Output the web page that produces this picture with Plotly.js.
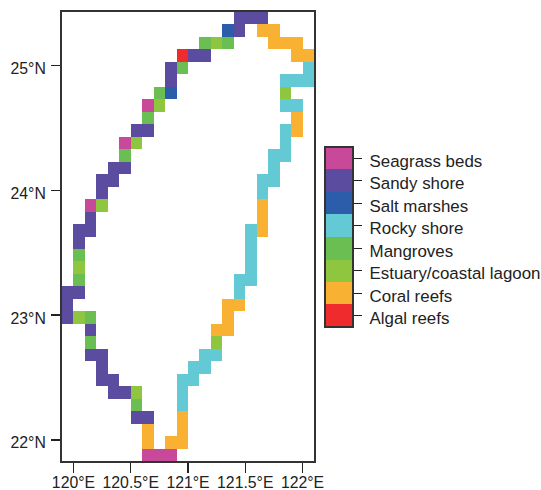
<!DOCTYPE html>
<html>
<head>
<meta charset="utf-8">
<script src="https://cdn.plot.ly/plotly-3.0.1.min.js"></script>
<style>html,body{margin:0;padding:0;background:#fff}</style>
</head>
<body>
<div id="chart" style="width:541px;height:490px"></div>
<script>
// Legend order, bottom to top of the colour bar
var habitats = ['Algal reefs','Coral reefs','Estuary/coastal lagoon','Mangroves','Rocky shore','Salt marshes','Sandy shore','Seagrass beds'];
var habitatColors = ['#EF2B2D','#F8B133','#8FC63F','#6BBE52','#63C9D5','#2C5DAA','#5B4CA0','#C8489A'];
// Key letter for each habitat, same order as above
var habitatKeys = ['A','C','E','N','R','M','S','G'];

var lonCentres = [119.95,120.05,120.15,120.25,120.35,120.45,120.55,120.65,120.75,120.85,120.95,121.05,121.15,121.25,121.35,121.45,121.55,121.65,121.75,121.85,121.95,122.05];
var latCentres = [25.38,25.28,25.18,25.08,24.98,24.88,24.78,24.68,24.58,24.48,24.38,24.28,24.18,24.08,23.98,23.88,23.78,23.68,23.58,23.48,23.38,23.28,23.18,23.08,22.98,22.88,22.78,22.68,22.58,22.48,22.38,22.28,22.18,22.08,21.98,21.88];

// One string per latitude row (north to south), one letter per longitude cell
var coastRows = [
  '...............SSS....',
  '..............MS.CC...',
  '............NEN...CCC.',
  '..........ASS.......CC',
  '.........SN..........R',
  '.........S.........RRR',
  '........NM.........E..',
  '.......GE..........RR.',
  '.......N............C.',
  '......SS...........RC.',
  '.....GE............R..',
  '.....N............RR..',
  '....SS............R...',
  '...SS............RR...',
  '...S.............R....',
  '..GE.............C....',
  '..S..............C....',
  '.SS.............RC....',
  '.S..............R.....',
  '.N..............R.....',
  '.E..............R.....',
  '.N.............RR.....',
  'SS.............R......',
  'S.............CC......',
  'SEN...........C.......',
  '..S..........CC.......',
  '..N..........E........',
  '..SS........RR........',
  '...S.......RR.........',
  '...SS.....RR..........',
  '....SSE...R...........',
  '......N...R...........',
  '......SS..C...........',
  '.......C..C...........',
  '.......C.CC...........',
  '.......GGG............'
];

var lonTickVals = [120,120.5,121,121.5,122];
var lonTickText = ['120°E','120.5°E','121°E','121.5°E','122°E'];
var latTickVals = [22,23,24,25];
var latTickText = ['22°N','23°N','24°N','25°N'];

var z = coastRows.map(function (row) {
  return row.split('').map(function (ch) {
    var i = habitatKeys.indexOf(ch);
    return i < 0 ? null : i;
  });
});

var n = habitats.length;
var scale = [];
habitatColors.forEach(function (c, i) {
  scale.push([i / n, c]);
  scale.push([(i + 1) / n, c]);
});

var family = '"Liberation Sans", Arial, sans-serif';
var axisFont = {family: family, size: 15.8, color: '#222'};

Plotly.newPlot('chart', [{
  type: 'heatmap',
  x: lonCentres,
  y: latCentres,
  z: z,
  zmin: -0.5,
  zmax: n - 0.5,
  zsmooth: false,
  colorscale: scale,
  hoverongaps: false,
  colorbar: {
    lenmode: 'pixels', len: 180, thicknessmode: 'pixels', thickness: 28,
    x: 1.044, xanchor: 'left', y: 0.499, yanchor: 'middle', xpad: 0, ypad: 0,
    outlinewidth: 2, outlinecolor: '#333', borderwidth: 0,
    tickmode: 'array', tickvals: habitats.map(function (_, i) { return i; }),
    ticktext: habitats.map(function (h) { return '\u00a0' + h; }),
    ticks: 'outside', ticklen: 8, tickwidth: 1, tickcolor: '#222',
    tickfont: {family: family, size: 16.9, color: '#222'}
  }
}], {
  width: 541, height: 490,
  margin: {l: 62, r: 227, t: 12, b: 29, pad: 0, autoexpand: false},
  paper_bgcolor: '#fff', plot_bgcolor: '#fff',
  font: axisFont,
  showlegend: false,
  xaxis: {
    range: [119.9, 122.1], tickmode: 'array', tickvals: lonTickVals, ticktext: lonTickText,
    ticks: 'outside', ticklen: 10, tickwidth: 1.5, tickcolor: '#222', tickfont: axisFont, ticklabelstandoff: -4,
    showgrid: false, zeroline: false, showline: true, mirror: true, linecolor: '#333', linewidth: 2
  },
  yaxis: {
    range: [21.83, 25.43], tickmode: 'array', tickvals: latTickVals, ticktext: latTickText,
    ticks: 'outside', ticklen: 9, tickwidth: 1.5, tickcolor: '#222', tickfont: axisFont, ticklabelstandoff: 2,
    showgrid: false, zeroline: false, showline: true, mirror: true, linecolor: '#333', linewidth: 2
  }
}, {displayModeBar: false, staticPlot: true}).then(function (gd) {
  // The reference sets its y and legend labels slightly below their tick marks
  gd.querySelectorAll('.ytick text').forEach(function (t) { t.setAttribute('dy', '3'); });
  gd.querySelectorAll('.colorbar .cbaxis text, .colorbar .ytick text').forEach(function (t) { t.setAttribute('dy', '2.5'); });
});
</script>
</body>
</html>
